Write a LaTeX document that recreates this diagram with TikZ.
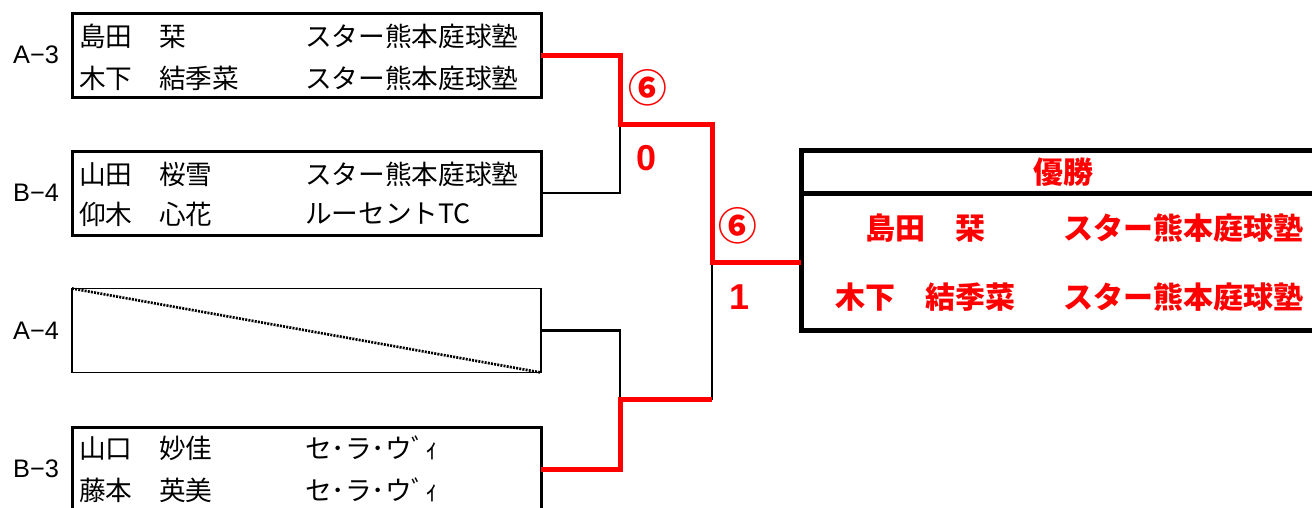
\documentclass[tikz,border=0pt]{standalone}
\usepackage{fontspec}
\setmainfont{Liberation Sans}
\newfontfamily\jp{Noto Sans CJK JP}
\tikzstyle{entry} = [rectangle, minimum width=351.75pt, minimum height=63pt, inner sep=0pt, outer sep=0pt, draw=black, line width=2.25pt]
\tikzstyle{bye} = [entry, line width=0.9pt]
\tikzstyle{champbox} = [rectangle, minimum width=389.25pt, minimum height=135pt, inner sep=0pt, outer sep=0pt, draw=black, line width=3.75pt]
\tikzstyle{seed} = [inner sep=0pt, font=\fontsize{19}{19}\selectfont]
\tikzstyle{player} = [anchor=west, inner sep=0pt, font=\jp\fontsize{20}{20}\selectfont]
\tikzstyle{winner} = [inner sep=0pt, text=red, font=\jp\bfseries\fontsize{22.5}{22.5}\selectfont]
\tikzstyle{score} = [inner sep=0pt, text=red, font=\bfseries\fontsize{27}{27}\selectfont]
\tikzstyle{line} = [line width=2pt]
\tikzstyle{won} = [line width=3.75pt, red]

\begin{document}
\begin{tikzpicture}[x=0.75pt, y=-0.75pt]
\useasboundingbox (0,0) rectangle (1312,507);

\node at (306.5, 55) (pair1) [entry] {};
\node at (306.5, 193) (pair2) [entry] {};
\node at (306.5, 330.5) (pair3) [bye] {};
\node at (306.5, 469) (pair4) [entry] {};
\node at (1060.5, 240) (champion) [champbox] {};

\node at (36, 55) (seed1) [seed] {A−3};
\node at (36, 193) (seed2) [seed] {B−4};
\node at (36, 331) (seed3) [seed] {A−4};
\node at (36, 469) (seed4) [seed] {B−3};

\node at (79, 36) (name1) [player] {島田　栞};
\node at (305, 36) (club1) [player] {スター熊本庭球塾};
\node at (79, 78) (name2) [player] {木下　結季菜};
\node at (305, 78) (club2) [player] {スター熊本庭球塾};
\node at (79, 174) (name3) [player] {山田　桜雪};
\node at (305, 174) (club3) [player] {スター熊本庭球塾};
\node at (79, 214) (name4) [player] {仰木　心花};
\node at (305, 214) (club4) [player] {ルーセントTC};
\node at (79, 448) (name5) [player] {山口　妙佳};
\node at (305, 448) (club5) [player] {セ･ラ･ウ\char"FF9E ｨ};
\node at (79, 490) (name6) [player] {藤本　英美};
\node at (305, 490) (club6) [player] {セ･ラ･ウ\char"FF9E ｨ};

\node at (1063, 172) (title) [winner] {優勝};
\node at (925, 228) (champ1) [winner] {島田　栞};
\node at (1183, 228) (champclub1) [winner] {スター熊本庭球塾};
\node at (925, 297) (champ2) [winner] {木下　結季菜};
\node at (1183, 297) (champclub2) [winner] {スター熊本庭球塾};

\node at (648, 88) (score1) [score] {\jp\fontsize{29}{29}\selectfont ⑥};
\node at (647, 158) (score2) [score] {0};
\node at (738, 226) (score3) [score] {\jp\fontsize{29}{29}\selectfont ⑥};
\node at (739, 297) (score4) [score] {1};

\coordinate (j1) at (620, 124);
\coordinate (j2) at (620, 399);
\coordinate (j3) at (712, 262);
\coordinate (hdr) at (0, 193);

\draw [dash pattern=on 1.5pt off 0.9pt, line width=2pt] (pair3.north west) -- (pair3.south east);
\draw [line width=3.75pt] (champion.west |- hdr) -- (champion.east |- hdr);

\draw [line] (pair2.east) -| (j1);
\draw [line] (pair3.east) -| (j2);
\draw [line] (j2) -| (j3);

\draw [won] (pair1.east) -| (j1) -| (j3) -- (champion.west |- j3);
\draw [won] (pair4.east) -| (j2) -- (j2 -| j3);

\end{tikzpicture}
\end{document}
